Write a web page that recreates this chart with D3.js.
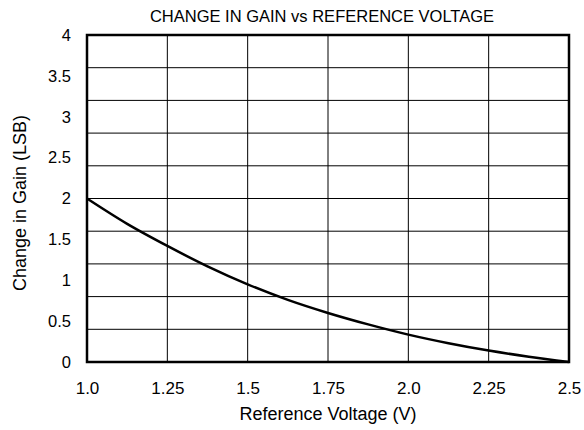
<!DOCTYPE html>
<html>
<head>
<meta charset="utf-8">
<script src="https://cdn.jsdelivr.net/npm/d3@7"></script>
<style>
  body { margin: 0; background: #fff; }
  svg text { font-family: "Liberation Sans", Arial, sans-serif; fill: #000; }
</style>
</head>
<body>
<svg id="chart" width="584" height="430"></svg>
<script>
// values
var voltage = [1.0, 1.125, 1.25, 1.375, 1.5, 1.625, 1.75, 1.875, 2.0, 2.125, 2.25, 2.375, 2.5];
var gainChange = [2.0, 1.69, 1.42, 1.17, 0.95, 0.76, 0.60, 0.46, 0.335, 0.23, 0.14, 0.065, 0.0];

var xTicks = [1.0, 1.25, 1.5, 1.75, 2.0, 2.25, 2.5];
var xTickLabels = ["1.0", "1.25", "1.5", "1.75", "2.0", "2.25", "2.5"];
var yTicks = [0, 0.5, 1, 1.5, 2, 2.5, 3, 3.5, 4];
var yTickLabels = ["0", "0.5", "1", "1.5", "2", "2.5", "3", "3.5", "4"];
var yGrid = [0.4, 0.8, 1.2, 1.6, 2.0, 2.4, 2.8, 3.2, 3.6];

var svg = d3.select("#chart");
var margin = {top: 35, right: 15, bottom: 68, left: 87};
var width = 584 - margin.left - margin.right;
var height = 430 - margin.top - margin.bottom;

var x = d3.scaleLinear().domain([1.0, 2.5]).range([0, width]);
var y = d3.scaleLinear().domain([0, 4]).range([height, 0]);

var g = svg.append("g")
    .attr("transform", "translate(" + margin.left + "," + margin.top + ")");

// grid
g.selectAll(".vgrid")
    .data(xTicks.slice(1, -1))
    .enter().append("line")
    .attr("x1", function(d) { return x(d); })
    .attr("x2", function(d) { return x(d); })
    .attr("y1", 0).attr("y2", height)
    .attr("stroke", "#000").attr("stroke-width", 1);

g.selectAll(".hgrid")
    .data(yGrid)
    .enter().append("line")
    .attr("x1", 0).attr("x2", width)
    .attr("y1", function(d) { return y(d); })
    .attr("y2", function(d) { return y(d); })
    .attr("stroke", "#000").attr("stroke-width", 1);

// axes (labels only)
var xAxis = g.append("g")
    .attr("transform", "translate(0," + height + ")")
    .call(d3.axisBottom(x).tickValues(xTicks)
        .tickFormat(function(d, i) { return xTickLabels[i]; })
        .tickSize(0).tickPadding(20));
xAxis.select(".domain").remove();
xAxis.selectAll("text").style("font-size", "17px");

var yAxis = g.append("g")
    .call(d3.axisLeft(y).tickValues(yTicks)
        .tickFormat(function(d, i) { return yTickLabels[i]; })
        .tickSize(0).tickPadding(16));
yAxis.select(".domain").remove();
yAxis.selectAll("text").style("font-size", "16.5px");

// frame
g.append("rect")
    .attr("x", 0).attr("y", 0)
    .attr("width", width).attr("height", height)
    .attr("fill", "none").attr("stroke", "#000").attr("stroke-width", 2.5);

// curve
var line = d3.line()
    .x(function(d) { return x(d[0]); })
    .y(function(d) { return y(d[1]); })
    .curve(d3.curveMonotoneX);

g.append("path")
    .datum(d3.zip(voltage, gainChange))
    .attr("d", line)
    .attr("fill", "none")
    .attr("stroke", "#000")
    .attr("stroke-width", 2.5);

// titles
svg.append("text")
    .attr("x", 322).attr("y", 22)
    .attr("text-anchor", "middle")
    .style("font-size", "16.5px")
    .text("CHANGE IN GAIN vs REFERENCE VOLTAGE");

svg.append("text")
    .attr("x", margin.left + width / 2).attr("y", 420)
    .attr("text-anchor", "middle")
    .style("font-size", "18px")
    .text("Reference Voltage (V)");

svg.append("text")
    .attr("transform", "translate(26,203) rotate(-90)")
    .attr("text-anchor", "middle")
    .style("font-size", "18px")
    .text("Change in Gain (LSB)");
</script>
</body>
</html>
